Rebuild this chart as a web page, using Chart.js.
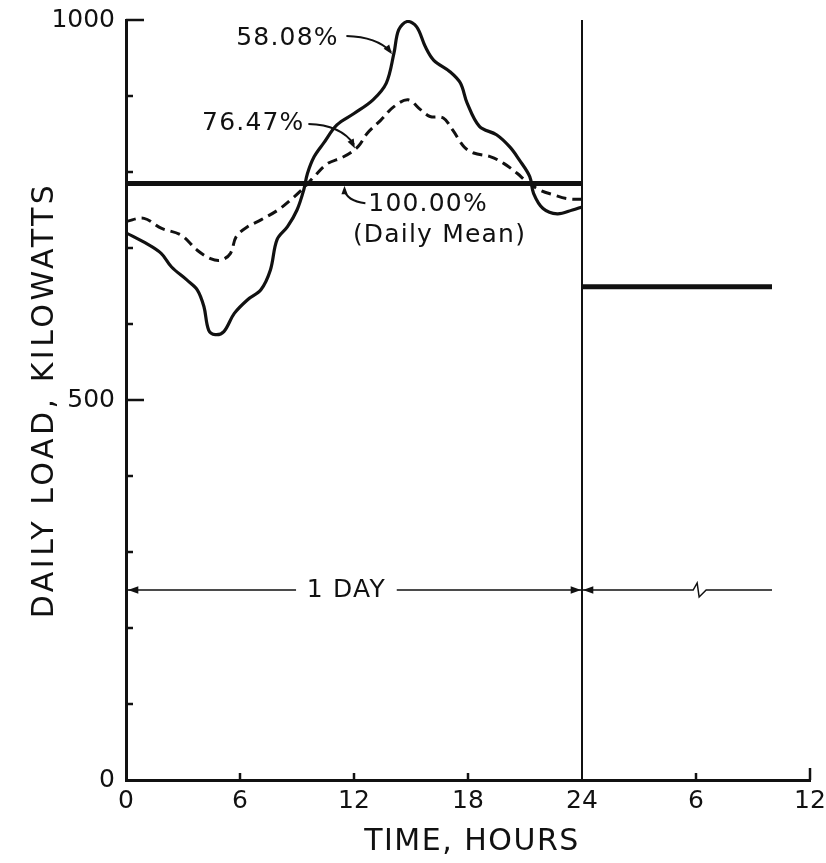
<!DOCTYPE html>
<html>
<head>
<meta charset="utf-8">
<script src="https://cdn.jsdelivr.net/npm/chart.js@4.4.0/dist/chart.umd.min.js"></script>
<style>
  html, body { margin: 0; padding: 0; background: #fff; }
  #wrap { width: 826px; height: 863px; }
</style>
</head>
<body>
<div id="wrap"><canvas id="loadChart" width="826" height="863"></canvas></div>
<script>
// load curve, 58.08% load factor (solid)
const solidHours = [0, 1.0, 1.85, 2.4, 3.2, 3.75, 4.1, 4.35, 4.7, 5.15, 5.7, 6.4, 7.1, 7.6, 7.95, 8.5, 9.0, 9.35, 9.55, 9.9,
    10.4, 11.1, 12.0, 13.0, 13.7, 14.1, 14.35, 14.8, 15.3, 15.75, 16.2, 17.05, 17.6, 17.95, 18.6, 19.5, 20.2, 20.7, 21.25,
    21.45, 21.95, 22.7, 23.5, 24];
const solidLoad = [720, 707, 693, 675, 658, 645, 623, 592, 586, 590, 614, 632, 645, 671, 711, 728, 750, 776, 798, 820,
    838, 862, 877, 895, 917, 956, 987, 998, 991, 965, 947, 932, 917, 891, 860, 849, 833, 816, 794,
    772, 752, 745, 750, 754];

// load curve, 76.47% load factor (dashed)
const dashedHours = [0, 0.95, 1.85, 2.9, 3.75, 4.45, 5.0, 5.5, 5.8, 6.4, 7.1, 8.0, 8.65, 9.35, 9.9, 10.6, 11.45, 12.2,
    12.7, 13.4, 14.1, 14.85, 15.5, 16.0, 16.7, 17.2, 17.8, 18.3, 19.2, 19.9, 20.6, 21.1, 21.8, 22.5, 23.2, 24];
const dashedLoad = [735, 739, 726, 717, 697, 686, 684, 693, 715, 728, 737, 750, 763, 779, 794, 811, 820, 833,
    851, 868, 886, 895, 882, 873, 871, 855, 833, 825, 820, 811, 798, 787, 776, 770, 765, 764];

// 100% load factor (daily mean) and the following day
const meanHours = [0, 24];
const meanLoad = [785, 785];
const nextHours = [24, 34];
const nextLoad = [649, 649];
const dividerHours = [24, 24];
const dividerLoad = [0, 1000];

const xTickLabels = ['0', '6', '12', '18', '24', '6', '12'];
const yLabelValues = [0, 500, 1000];
const spanLoad = 250;

const ink = '#111';
const fontFamily = "'DejaVu Sans', sans-serif";

function toPoints(xs, ys) {
    return xs.map((x, i) => ({ x: x, y: ys[i] }));
}

function arrowHead(ctx, tipX, tipY, fromX, fromY, size) {
    const a = Math.atan2(tipY - fromY, tipX - fromX);
    ctx.beginPath();
    ctx.moveTo(tipX, tipY);
    ctx.lineTo(tipX - size * Math.cos(a - 0.35), tipY - size * Math.sin(a - 0.35));
    ctx.lineTo(tipX - size * Math.cos(a + 0.35), tipY - size * Math.sin(a + 0.35));
    ctx.closePath();
    ctx.fill();
}

const overlay = {
    id: 'overlay',
    afterDatasetsDraw(chart) {
        const ctx = chart.ctx;
        const xs = chart.scales.x;
        const ys = chart.scales.y;
        const px = v => xs.getPixelForValue(v);
        const py = v => ys.getPixelForValue(v);

        ctx.save();
        ctx.strokeStyle = ink;
        ctx.fillStyle = ink;
        ctx.lineCap = 'butt';

        // inward ticks on the load axis
        ctx.lineWidth = 2.5;
        for (let v = 100; v <= 1000; v += 100) {
            const len = yLabelValues.includes(v) ? 18 : 7;
            ctx.beginPath();
            ctx.moveTo(xs.left, py(v));
            ctx.lineTo(xs.left + len, py(v));
            ctx.stroke();
        }
        // inward ticks on the time axis
        for (let v = 6; v <= 36; v += 6) {
            if (v === 24) continue;
            const len = v === 36 ? 12 : 7;
            ctx.beginPath();
            ctx.moveTo(px(v), ys.bottom);
            ctx.lineTo(px(v), ys.bottom - len);
            ctx.stroke();
        }

        ctx.textAlign = 'center';
        ctx.textBaseline = 'middle';

        // axis titles
        ctx.font = '30px ' + fontFamily;
        ctx.letterSpacing = '1.5px';
        ctx.fillText('TIME, HOURS', (xs.left + xs.right) / 2 + 4, 842);
        ctx.save();
        ctx.translate(45, (ys.top + ys.bottom) / 2);
        ctx.rotate(-Math.PI / 2);
        ctx.letterSpacing = '3.5px';
        ctx.fillText('DAILY LOAD, KILOWATTS', 0, 0);
        ctx.restore();

        // curve labels
        ctx.font = '25px ' + fontFamily;
        ctx.letterSpacing = '1.2px';
        ctx.fillText('58.08%', px(8.5), py(976));
        ctx.fillText('76.47%', px(6.7), py(864));
        ctx.fillText('100.00%', px(15.9), py(757));
        ctx.fillText('(Daily Mean)', px(16.5), py(717));

        // leaders
        ctx.lineWidth = 2;
        ctx.beginPath();
        ctx.moveTo(px(11.6), py(979));
        ctx.quadraticCurveTo(px(13.2), py(978), px(13.95), py(958));
        ctx.stroke();
        arrowHead(ctx, px(14.0), py(955), px(13.5), py(972), 10);

        ctx.beginPath();
        ctx.moveTo(px(9.6), py(863));
        ctx.quadraticCurveTo(px(11.3), py(862), px(12.0), py(836));
        ctx.stroke();
        arrowHead(ctx, px(12.05), py(831), px(11.7), py(848), 10);

        ctx.beginPath();
        ctx.moveTo(px(12.6), py(759));
        ctx.quadraticCurveTo(px(11.6), py(762), px(11.5), py(777));
        ctx.stroke();
        arrowHead(ctx, px(11.5), py(782), px(11.5), py(770), 9);

        // 1 DAY span
        const sy = py(spanLoad);
        ctx.lineWidth = 1.5;
        ctx.beginPath();
        ctx.moveTo(px(0), sy); ctx.lineTo(px(8.95), sy);
        ctx.moveTo(px(14.25), sy); ctx.lineTo(px(24), sy);
        ctx.stroke();
        arrowHead(ctx, px(0) + 2, sy, px(1), sy, 11);
        arrowHead(ctx, px(24) - 1, sy, px(23), sy, 11);
        ctx.fillText('1 DAY', px(11.6), sy);

        // following day span with break
        const bx = px(29.85);
        ctx.beginPath();
        ctx.moveTo(px(24), sy);
        ctx.lineTo(bx, sy);
        ctx.lineTo(bx + 4, sy - 7);
        ctx.lineTo(bx + 6, sy + 7);
        ctx.lineTo(bx + 13, sy);
        ctx.lineTo(px(34), sy);
        ctx.stroke();
        arrowHead(ctx, px(24) + 1, sy, px(25), sy, 11);

        ctx.restore();
    }
};

const ctx = document.getElementById('loadChart').getContext('2d');
new Chart(ctx, {
    type: 'scatter',
    data: {
        datasets: [
            {
                label: '58.08%',
                data: toPoints(solidHours, solidLoad),
                showLine: true,
                borderColor: ink,
                borderWidth: 3.2,
                tension: 0.35,
                pointRadius: 0
            },
            {
                label: '76.47%',
                data: toPoints(dashedHours, dashedLoad),
                showLine: true,
                borderColor: ink,
                borderWidth: 3,
                borderDash: [10, 6],
                tension: 0.35,
                pointRadius: 0
            },
            {
                label: '100.00%',
                data: toPoints(meanHours, meanLoad),
                showLine: true,
                borderColor: ink,
                borderWidth: 5,
                pointRadius: 0
            },
            {
                label: 'next day',
                data: toPoints(nextHours, nextLoad),
                showLine: true,
                borderColor: ink,
                borderWidth: 5,
                pointRadius: 0
            },
            {
                label: 'divider',
                data: toPoints(dividerHours, dividerLoad),
                showLine: true,
                borderColor: ink,
                borderWidth: 2,
                pointRadius: 0
            }
        ]
    },
    options: {
        responsive: false,
        animation: false,
        layout: { padding: { left: 0, right: 16, top: 20, bottom: 0 } },
        plugins: {
            legend: { display: false },
            tooltip: { enabled: false }
        },
        scales: {
            x: {
                type: 'linear',
                min: 0,
                max: 36,
                afterFit: s => { s.height = 83; s.paddingLeft = 0; s.paddingRight = 0; },
                grid: { display: false, drawTicks: false },
                border: { display: true, color: ink, width: 3 },
                ticks: {
                    stepSize: 6,
                    padding: 6,
                    color: ink,
                    font: { family: fontFamily, size: 25 },
                    callback: (v, i) => xTickLabels[i]
                }
            },
            y: {
                min: 0,
                max: 1000,
                afterFit: s => { s.width = 126; s.paddingTop = 0; s.paddingBottom = 0; },
                grid: { display: false, drawTicks: false },
                border: { display: true, color: ink, width: 3 },
                ticks: {
                    stepSize: 100,
                    autoSkip: false,
                    padding: 11,
                    color: ink,
                    font: { family: fontFamily, size: 25 },
                    callback: v => yLabelValues.includes(v) ? String(v) : ''
                }
            }
        }
    },
    plugins: [overlay]
});
</script>
</body>
</html>
